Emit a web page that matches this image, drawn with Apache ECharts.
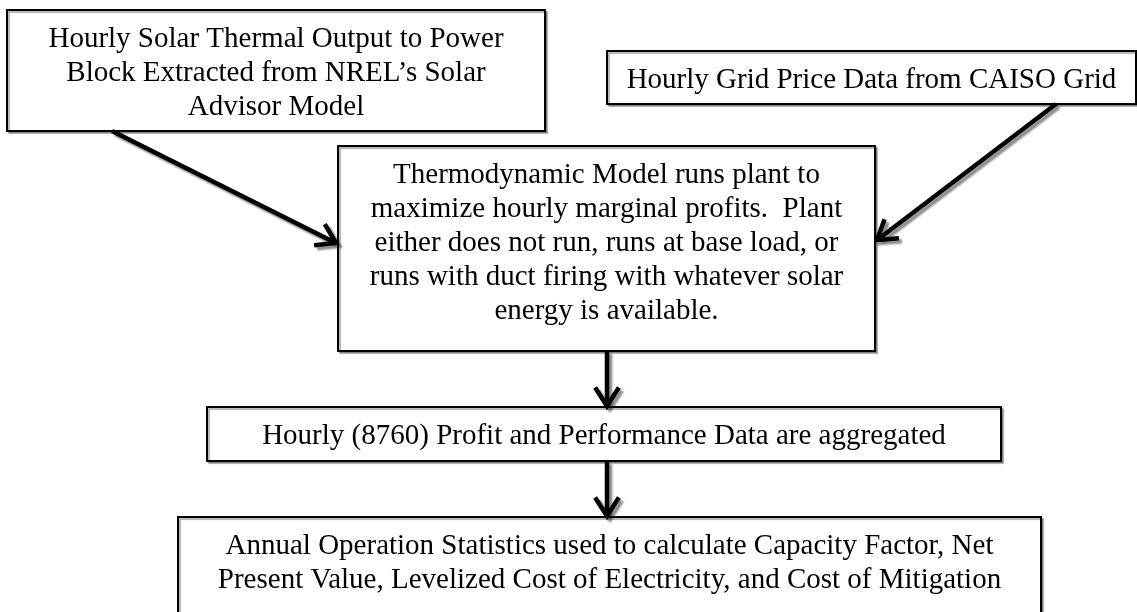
<!DOCTYPE html>
<html>
<head>
<meta charset="utf-8">
<script src="https://cdn.jsdelivr.net/npm/echarts@6/dist/echarts.min.js"></script>
<style>
  html, body { margin: 0; padding: 0; background: #fff; }
  #chart { width: 1137px; height: 612px; }
</style>
</head>
<body>
<div id="chart"></div>
<script>
// box captions, top to bottom of the flow
const boxTexts = [
  "Hourly Solar Thermal Output to Power\nBlock Extracted from NREL\u2019s Solar\nAdvisor Model",
  "Hourly Grid Price Data from CAISO Grid",
  "Thermodynamic Model runs plant to\nmaximize hourly marginal profits.  Plant\neither does not run, runs at base load, or\nruns with duct firing with whatever solar\nenergy is available.",
  "Hourly (8760) Profit and Performance Data are aggregated",
  "Annual Operation Statistics used to calculate Capacity Factor, Net\nPresent Value, Levelized Cost of Electricity, and Cost of Mitigation"
];

// layout in page pixels (y grows downward)
const boxLeft = [7, 607, 338, 207, 178];
const boxTop = [10, 51, 146, 407, 517];
const boxRight = [545, 1136, 875, 1001, 1041];
const boxBottom = [131, 104, 351, 461, 618];

const arrowStart = [[112, 131], [1056, 104], [607, 351], [607, 461]];
const arrowEnd = [[336, 243], [877, 240], [607, 406], [607, 516]];

const FONT = '"Liberation Serif", "Times New Roman", serif';

function renderBox(params, api) {
  const p0 = api.coord([api.value(0), api.value(1)]);
  const p1 = api.coord([api.value(2), api.value(3)]);
  return {
    type: "group",
    children: [
      {
        type: "rect",
        shape: { x: p0[0], y: p0[1], width: p1[0] - p0[0], height: p1[1] - p0[1] },
        style: {
          fill: "#fff",
          stroke: "#000",
          lineWidth: 2,
          shadowColor: "rgba(0,0,0,0.3)",
          shadowOffsetX: 2,
          shadowOffsetY: 2,
          shadowBlur: 1,
        },
      },
      {
        type: "text",
        style: {
          text: boxTexts[params.dataIndex],
          x: (p0[0] + p1[0]) / 2,
          y: p0[1] + 12,
          align: "center",
          verticalAlign: "top",
          fontFamily: FONT,
          fontSize: 29,
          lineHeight: 34,
          fill: "#000",
        },
      },
    ],
  };
}

function renderArrow(params, api) {
  const a = api.coord([api.value(0), api.value(1)]);
  const b = api.coord([api.value(2), api.value(3)]);
  const ang = Math.atan2(b[1] - a[1], b[0] - a[0]);
  const len = 22;
  const spread = Math.PI / 5.5;
  const w1 = [b[0] - len * Math.cos(ang - spread), b[1] - len * Math.sin(ang - spread)];
  const w2 = [b[0] - len * Math.cos(ang + spread), b[1] - len * Math.sin(ang + spread)];
  const shaftEnd = [b[0] - 3 * Math.cos(ang), b[1] - 3 * Math.sin(ang)];
  const style = {
    stroke: "#000",
    fill: null,
    lineWidth: 4.5,
    lineJoin: "miter",
    shadowColor: "rgba(0,0,0,0.45)",
    shadowOffsetX: 3,
    shadowOffsetY: 3,
    shadowBlur: 2,
  };
  return {
    type: "group",
    children: [
      { type: "polyline", shape: { points: [a, shaftEnd] }, style: style },
      { type: "polyline", shape: { points: [w1, b, w2] }, style: style },
    ],
  };
}

const boxData = boxTexts.map((t, i) => [boxLeft[i], boxTop[i], boxRight[i], boxBottom[i]]);
const arrowData = arrowStart.map((s, i) => [s[0], s[1], arrowEnd[i][0], arrowEnd[i][1]]);

const myChart = echarts.init(document.getElementById("chart"));
const option = {
  animation: false,
  backgroundColor: "#fff",
  grid: { left: 0, right: 0, top: 0, bottom: 0 },
  xAxis: { type: "value", min: 0, max: 1137, show: false },
  yAxis: { type: "value", min: 0, max: 612, inverse: true, show: false },
  series: [
    {
      type: "custom",
      coordinateSystem: "cartesian2d",
      renderItem: renderBox,
      clip: false,
      data: boxData,
    },
    {
      type: "custom",
      coordinateSystem: "cartesian2d",
      renderItem: renderArrow,
      clip: false,
      data: arrowData,
    },
  ],
};
myChart.setOption(option);
</script>
</body>
</html>
